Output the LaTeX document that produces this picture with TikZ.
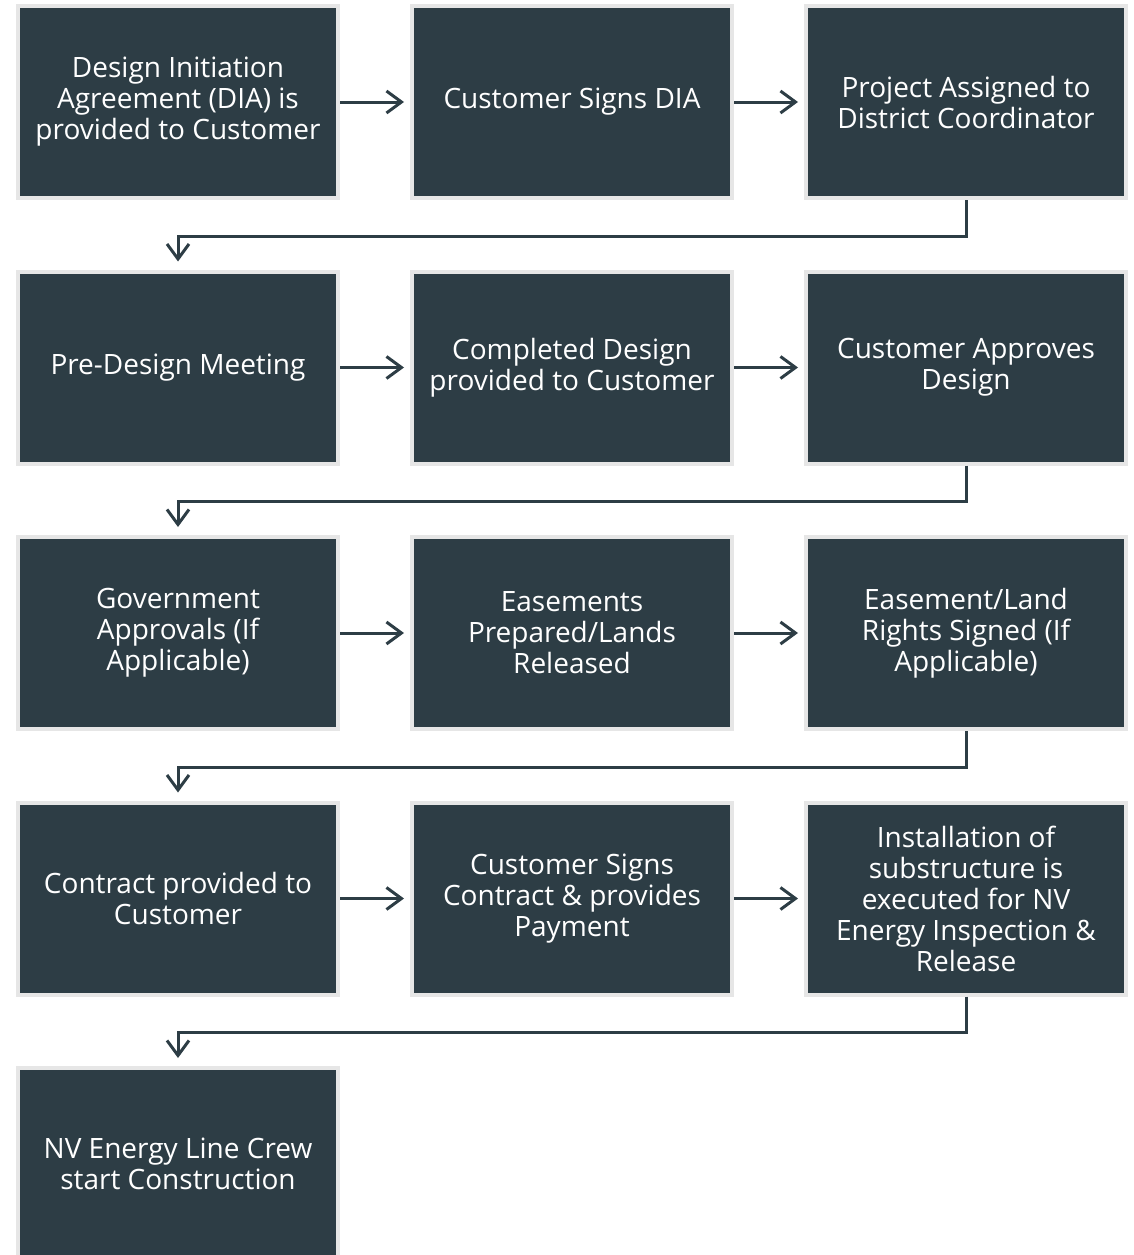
\documentclass[tikz,border=0pt]{standalone}
\usepackage{fontspec}
\setmainfont{Open Sans}
\usetikzlibrary{arrows.meta}
\definecolor{boxc}{HTML}{2D3D45}
\definecolor{bordc}{HTML}{E6E6E6}
\tikzset{
  stepbox/.style={rectangle, fill=boxc, draw=bordc, line width=4pt,
    minimum width=320pt, minimum height=192pt, inner sep=0pt,
    text=white, align=center, font=\fontsize{28}{31}\selectfont},
  conn/.style={draw=boxc, line width=3pt,
    -{Straight Barb[length=15pt,width=22pt,line width=3pt]}},
}
\begin{document}
\begin{tikzpicture}[x=1pt,y=-1pt]
\useasboundingbox (0,0) rectangle (1133,1255);
\begin{scope}
\clip (0,0) rectangle (1133,1255);
\node[stepbox] (a1) at (178,102) {Design Initiation\\Agreement (DIA) is\\provided to Customer};
\node[stepbox] (a2) at (572,102) {Customer Signs DIA};
\node[stepbox] (a3) at (966,102) {Project Assigned to\\District Coordinator};
\node[stepbox] (b1) at (178,367.5) {Pre-Design Meeting};
\node[stepbox] (b2) at (572,367.5) {Completed Design\\provided to Customer};
\node[stepbox] (b3) at (966,367.5) {Customer Approves\\Design};
\node[stepbox] (c1) at (178,633) {Government\\Approvals (If\\Applicable)};
\node[stepbox] (c2) at (572,633) {Easements\\Prepared/Lands\\Released};
\node[stepbox] (c3) at (966,633) {Easement/Land\\Rights Signed (If\\Applicable)};
\node[stepbox] (d1) at (178,898.5) {Contract provided to\\Customer};
\node[stepbox] (d2) at (572,898.5) {Customer Signs\\Contract \& provides\\Payment};
\node[stepbox] (d3) at (966,898.5) {Installation of\\substructure is\\executed for NV\\Energy Inspection \&\\Release};
\node[stepbox] (e1) at (178,1164) {NV Energy Line Crew\\start Construction};
\end{scope}
\foreach \r in {a,b,c,d}{
  \draw[conn, shorten >=6pt] (\r1.east) -- (\r2.west);
  \draw[conn, shorten >=6pt] (\r2.east) -- (\r3.west);
}
\draw[conn, shorten >=8pt] (a3.south) -- ++(0,36) -| (b1.north);
\draw[conn, shorten >=8pt] (b3.south) -- ++(0,36) -| (c1.north);
\draw[conn, shorten >=8pt] (c3.south) -- ++(0,36) -| (d1.north);
\draw[conn, shorten >=8pt] (d3.south) -- ++(0,36) -| (e1.north);
\end{tikzpicture}
\end{document}
